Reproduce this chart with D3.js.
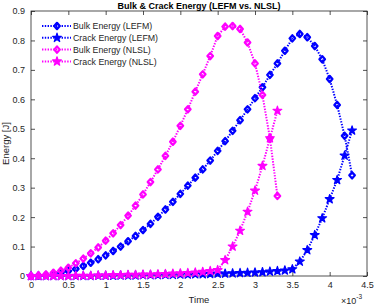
<!DOCTYPE html>
<html>
<head>
<meta charset="utf-8">
<script src="https://cdn.jsdelivr.net/npm/d3@7"></script>
<style>
  body { margin: 0; background: #fff; }
  text { font-family: "Liberation Sans", Arial, Helvetica, sans-serif; }
</style>
</head>
<body>
<div id="chart"></div>
<script>
// time in units of 1e-3
let timeLEFM = [0, 0.1, 0.2, 0.3, 0.4, 0.5, 0.6, 0.7, 0.8, 0.9,
    1.0, 1.1, 1.2, 1.3, 1.4, 1.5, 1.6, 1.7, 1.8, 1.9,
    2.0, 2.1, 2.2, 2.3, 2.4, 2.5, 2.6, 2.7, 2.8, 2.9,
    3.0, 3.1, 3.2, 3.3, 3.4, 3.5, 3.6, 3.7, 3.8, 3.9,
    4.0, 4.1, 4.2, 4.3];
let timeNLSL = [0, 0.1, 0.2, 0.3, 0.4, 0.5, 0.6, 0.7, 0.8, 0.9,
    1.0, 1.1, 1.2, 1.3, 1.4, 1.5, 1.6, 1.7, 1.8, 1.9,
    2.0, 2.1, 2.2, 2.3, 2.4, 2.5, 2.6, 2.7, 2.8, 2.9,
    3.0, 3.1, 3.2, 3.3];

let bulkLEFM = [0, 0.001, 0.003, 0.006, 0.011, 0.017, 0.024, 0.034, 0.045, 0.057,
    0.070, 0.085, 0.100, 0.118, 0.136, 0.156, 0.177, 0.201, 0.226, 0.252,
    0.279, 0.307, 0.334, 0.362, 0.392, 0.425, 0.458, 0.493, 0.529, 0.566,
    0.604, 0.641, 0.683, 0.722, 0.765, 0.807, 0.822, 0.811, 0.781, 0.736,
    0.669, 0.581, 0.476, 0.342];
let crackLEFM = [0, 0, 0, 0, 0, 0, 0, 0, 0, 0.001,
    0.001, 0.001, 0.002, 0.002, 0.002, 0.003, 0.003, 0.003, 0.004, 0.004,
    0.005, 0.005, 0.006, 0.006, 0.007, 0.008, 0.008, 0.009, 0.010, 0.011,
    0.012, 0.013, 0.015, 0.017, 0.019, 0.023, 0.049, 0.088, 0.139, 0.196,
    0.261, 0.326, 0.409, 0.494];
let bulkNLSL = [0, 0.002, 0.005, 0.011, 0.018, 0.028, 0.043, 0.059, 0.077, 0.097,
    0.120, 0.145, 0.173, 0.205, 0.239, 0.277, 0.319, 0.362, 0.408, 0.456,
    0.510, 0.566, 0.626, 0.685, 0.747, 0.815, 0.847, 0.849, 0.839, 0.793,
    0.722, 0.615, 0.468, 0.272];
let crackNLSL = [0, 0, 0, 0, 0, 0, 0.001, 0.001, 0.001, 0.002,
    0.002, 0.003, 0.003, 0.004, 0.004, 0.005, 0.005, 0.006, 0.007, 0.008,
    0.009, 0.010, 0.012, 0.014, 0.017, 0.020, 0.054, 0.100, 0.154, 0.218,
    0.290, 0.374, 0.468, 0.561];

let xTicks = [0, 0.5, 1, 1.5, 2, 2.5, 3, 3.5, 4, 4.5];
let yTicks = [0, 0.1, 0.2, 0.3, 0.4, 0.5, 0.6, 0.7, 0.8, 0.9];

let series = [
    {name: "Bulk Energy (LEFM)", x: timeLEFM, y: bulkLEFM, color: "#0000ff", marker: "diamond"},
    {name: "Crack Energy (LEFM)", x: timeLEFM, y: crackLEFM, color: "#0000ff", marker: "star"},
    {name: "Bulk Energy (NLSL)", x: timeNLSL, y: bulkNLSL, color: "#ff00ff", marker: "diamond"},
    {name: "Crack Energy (NLSL)", x: timeNLSL, y: crackNLSL, color: "#ff00ff", marker: "star"}
];

let W = 374, H = 306;
let margin = {top: 11, right: 7, bottom: 30, left: 31};
let axisColor = "#262626";

let svg = d3.select("#chart").append("svg")
    .attr("width", W)
    .attr("height", H);

let x = d3.scaleLinear().domain([0, 4.5]).range([margin.left, W - margin.right]);
let y = d3.scaleLinear().domain([0, 0.9]).range([H - margin.bottom, margin.top]);

// markers: diamonds are thick outlines, stars look filled
let diamondPath = "M0,-3.2L2.8,0L0,3.2L-2.8,0Z";
let starPath = d3.symbol().type(d3.symbolStar).size(24)();
function markerPath(m) { return m === "diamond" ? diamondPath : starPath; }
function styleMarker(sel, s) {
    sel.attr("d", markerPath(s.marker))
        .attr("fill", s.marker === "star" ? s.color : "none")
        .attr("stroke", s.color)
        .attr("stroke-width", s.marker === "star" ? 1.2 : 2.2)
        .attr("stroke-linejoin", "round");
}

// axes
let xAxis = d3.axisBottom(x).tickValues(xTicks).tickSizeInner(-4).tickSizeOuter(0)
    .tickFormat(d => d3.format("")(d)).tickPadding(6);
let yAxis = d3.axisLeft(y).tickValues(yTicks).tickSizeInner(-4).tickSizeOuter(0)
    .tickFormat(d => d === 0 ? "0" : d3.format(".1f")(d)).tickPadding(6);

let gx = svg.append("g").attr("transform", `translate(0,${H - margin.bottom})`).call(xAxis);
let gy = svg.append("g").attr("transform", `translate(${margin.left},0)`).call(yAxis);
let gxTop = svg.append("g").attr("transform", `translate(0,${margin.top})`)
    .call(d3.axisTop(x).tickValues(xTicks).tickSizeInner(-4).tickSizeOuter(0).tickFormat(""));
let gyRight = svg.append("g").attr("transform", `translate(${W - margin.right},0)`)
    .call(d3.axisRight(y).tickValues(yTicks).tickSizeInner(-4).tickSizeOuter(0).tickFormat(""));

[gx, gy, gxTop, gyRight].forEach(g => {
    g.select(".domain").remove();
    g.selectAll("line").attr("stroke", axisColor).attr("stroke-width", 0.8);
    g.selectAll("text").attr("fill", axisColor).style("font-size", "9px");
});

// box
svg.append("rect")
    .attr("x", margin.left).attr("y", margin.top)
    .attr("width", W - margin.left - margin.right)
    .attr("height", H - margin.top - margin.bottom)
    .attr("fill", "none").attr("stroke", axisColor).attr("stroke-width", 0.8);

// lines and markers
let line = d3.line().x(d => x(d[0])).y(d => y(d[1]));

let plot = svg.append("g");
series.forEach(s => {
    let pts = s.x.map((t, i) => [t, s.y[i]]);
    let g = plot.append("g");
    g.append("path")
        .datum(pts)
        .attr("d", line)
        .attr("fill", "none")
        .attr("stroke", s.color)
        .attr("stroke-width", 2)
        .attr("stroke-dasharray", "1.4,1.4");
    g.selectAll("path.mk")
        .data(pts)
        .join("path")
        .attr("class", "mk")
        .attr("transform", d => `translate(${x(d[0])},${y(d[1])})`)
        .call(styleMarker, s);
});

// legend
let legend = svg.append("g");
series.forEach((s, i) => {
    let ly = 26 + i * 11.8;
    legend.append("line")
        .attr("x1", 42).attr("x2", 71).attr("y1", ly).attr("y2", ly)
        .attr("stroke", s.color).attr("stroke-width", 2).attr("stroke-dasharray", "1.4,1.4");
    legend.append("path")
        .attr("transform", `translate(57,${ly})`)
        .call(styleMarker, s);
    legend.append("text")
        .attr("x", 73).attr("y", ly + 3.2)
        .attr("fill", axisColor)
        .style("font-size", "8.8px")
        .text(s.name);
});

// title
svg.append("text")
    .attr("x", (margin.left + W - margin.right) / 2).attr("y", 8.5)
    .attr("text-anchor", "middle")
    .style("font-size", "9px").style("font-weight", "bold")
    .attr("fill", "#000")
    .text("Bulk & Crack Energy (LEFM vs. NLSL)");

// axis labels
svg.append("text")
    .attr("x", (margin.left + W - margin.right) / 2).attr("y", 303)
    .attr("text-anchor", "middle")
    .style("font-size", "9.5px")
    .attr("fill", axisColor)
    .text("Time");

svg.append("text")
    .attr("transform", `translate(9,${(margin.top + H - margin.bottom) / 2}) rotate(-90)`)
    .attr("text-anchor", "middle")
    .style("font-size", "9.5px")
    .attr("fill", axisColor)
    .text("Energy [J]");

// exponent
let ex = svg.append("text")
    .attr("x", 341).attr("y", 304)
    .style("font-size", "9px")
    .attr("fill", axisColor);
ex.append("tspan").text("\u00d710");
ex.append("tspan").attr("dy", -5).style("font-size", "6.5px").text("-3");
</script>
</body>
</html>
